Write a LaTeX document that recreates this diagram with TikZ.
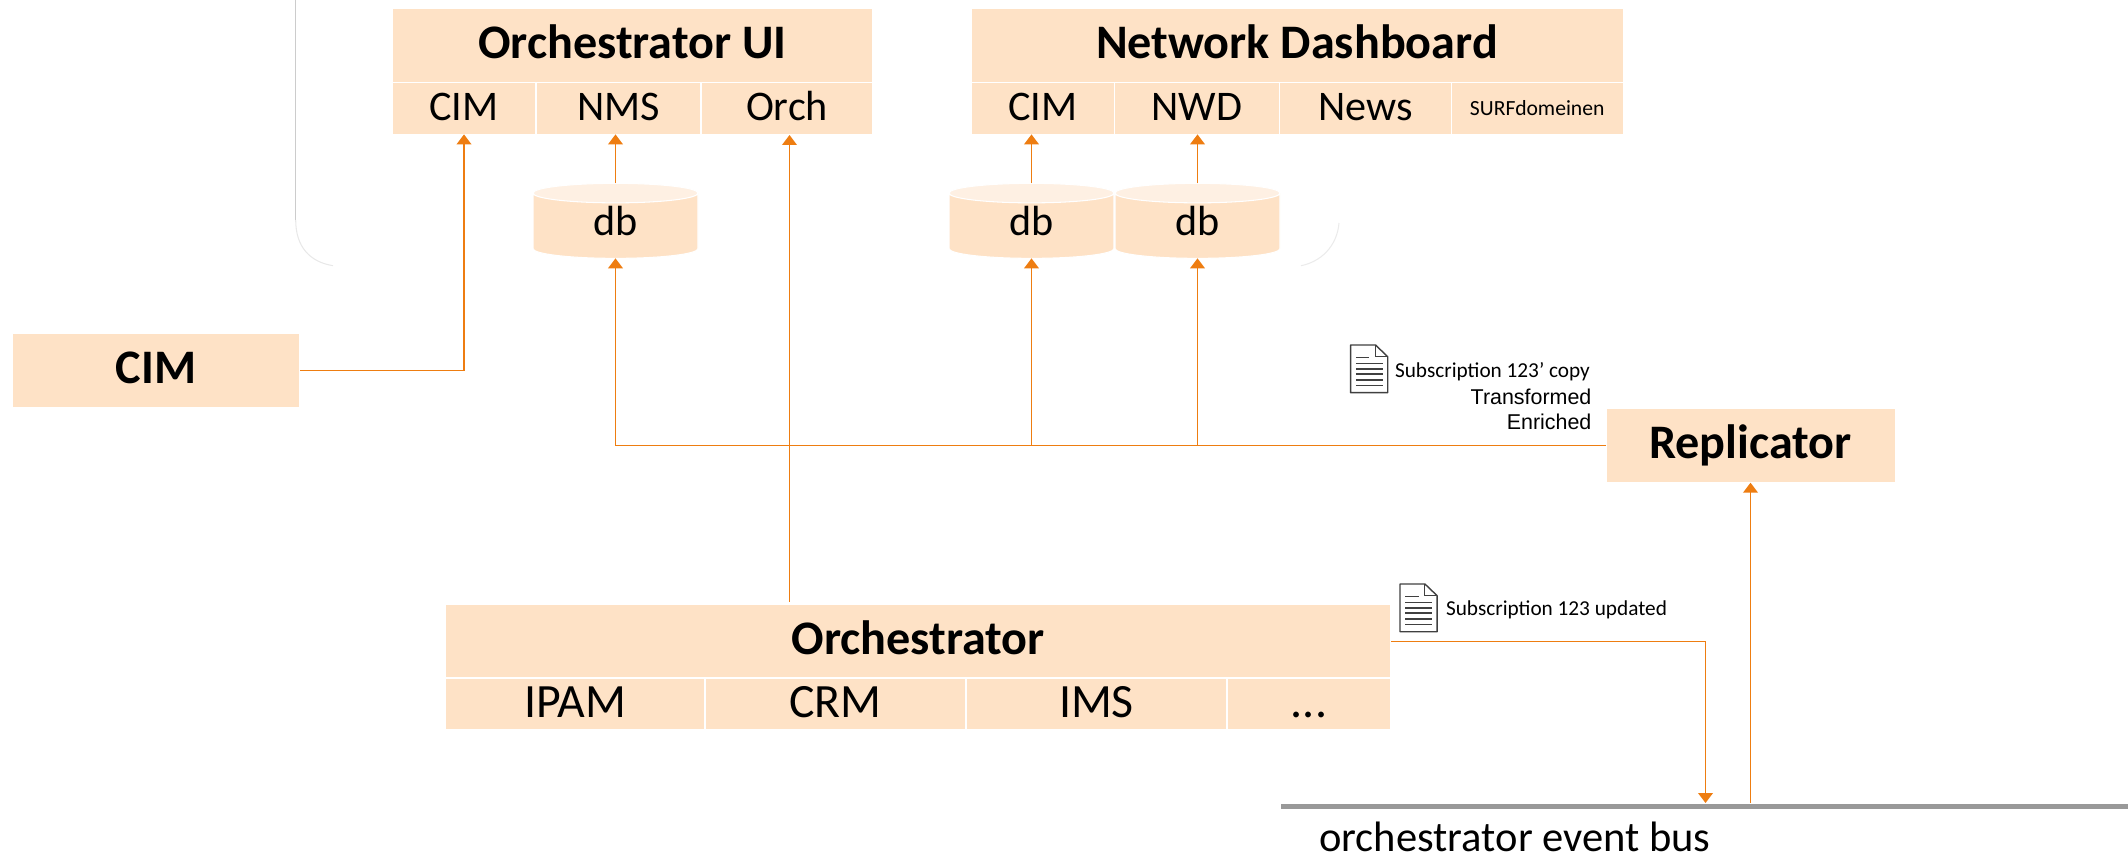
\documentclass[tikz,border=0pt]{standalone}
\usepackage{fontspec}
\setmainfont{Carlito}
\newfontfamily\arialfont{Liberation Sans}
\usetikzlibrary{arrows.meta, shapes.geometric}
\definecolor{boxfill}{HTML}{FEE2C6}
\definecolor{dbtop}{HTML}{FEF0E3}
\definecolor{linkcol}{HTML}{EE7D11}

\tikzset{
  box/.style={fill=boxfill, draw=white, line width=0.3pt, anchor=north west, inner sep=0pt, outer sep=0pt, text=black},
  title/.style={box, minimum height=0.747cm, text height=0.28cm, text depth=0.02cm, font=\fontsize{13.7}{15}\selectfont\bfseries},
  cell/.style={box, minimum height=0.516cm, text height=0.23cm, text depth=0cm, font=\fontsize{12}{13}\selectfont},
  lowcell/.style={cell, text height=0.27cm, font=\fontsize{13.6}{15}\selectfont},
  dbase/.style={cylinder, shape border rotate=90, aspect=0.44, minimum width=1.65cm, minimum height=0.75cm,
    cylinder uses custom fill, cylinder body fill=boxfill, cylinder end fill=dbtop, draw=white, line width=0.3pt,
    inner sep=0pt, outer sep=0pt, text height=0.19cm, text depth=0cm, font=\fontsize{12}{13}\selectfont},
  link/.style={draw=linkcol, line width=0.45pt},
  arrow/.style={link, -{Triangle[width=1.47mm, length=1mm]}},
  small/.style={inner sep=0pt, outer sep=0pt, font=\fontsize{6.05}{7}\selectfont},
  note/.style={inner sep=0pt, outer sep=0pt, anchor=base east, font=\arialfont\fontsize{6.1}{7}\selectfont},
  pics/docicon/.style={code={
    \draw[draw=black!75, line width=0.4pt, line join=round, fill=white] (0,0) -- (0.249,0) -- (0.371,-0.117) -- (0.371,-0.477) -- (0,-0.477) -- cycle;
    \draw[draw=black!75, line width=0.3pt] (0.249,0) -- (0.249,-0.117) -- (0.371,-0.117);
    \draw[draw=black!75, line width=0.4pt] (0.053,-0.123) -- (0.188,-0.123);
    \foreach \yy in {0.183,0.24,0.29,0.35,0.403} {
      \draw[draw=black!75, line width=0.4pt] (0.053,-\yy) -- (0.32,-\yy);
    }
  }},
}

\begin{document}
\begin{tikzpicture}
\useasboundingbox (0,0) rectangle (21.28,8.57);

% faint frame behind the top row
\draw[draw=black!20, line width=0.3pt] (2.957,8.57) -- (2.957,6.37);
\draw[draw=black!9, line width=0.3pt] (2.957,6.37) .. controls (2.957,6.1) and (3.1,5.95) .. (3.33,5.913);
\draw[draw=black!8, line width=0.3pt] (13.39,6.34) .. controls (13.37,6.1) and (13.2,5.95) .. (13.01,5.913);

% orchestrator ui
\node[title, minimum width=4.81cm] (uititle) at (3.92,8.49) {Orchestrator UI};
\node[cell, minimum width=1.44cm] (ucim) at (3.92,7.742) {CIM};
\node[cell, minimum width=1.65cm] (unms) at (5.36,7.742) {NMS};
\node[cell, minimum width=1.72cm] (uorch) at (7.01,7.742) {Orch};

% network dashboard
\node[title, minimum width=6.52cm] (nwdtitle) at (9.71,8.49) {Network Dashboard};
\node[cell, minimum width=1.434cm] (ncim) at (9.71,7.742) {CIM};
\node[cell, minimum width=1.652cm] (nnwd) at (11.144,7.742) {NWD};
\node[cell, minimum width=1.718cm] (nnews) at (12.796,7.742) {News};
\node[cell, minimum width=1.716cm, text height=0.13cm, font=\fontsize{6.15}{7}\selectfont] (nsurf) at (14.514,7.742) {SURFdomeinen};

% databases
\node[dbase] (dbnms) at (6.155,6.31) {db};
\node[dbase] (dbcim) at (10.315,6.31) {db};
\node[dbase] (dbnwd) at (11.975,6.31) {db};

\node[title, minimum width=2.88cm] (cim) at (0.12,5.24) {CIM};
\node[title, minimum width=2.89cm] (replicator) at (16.06,4.49) {Replicator};

% orchestrator
\node[title, minimum width=9.454cm] (orchestrator) at (4.456,2.53) {Orchestrator};
\node[lowcell, minimum width=2.594cm] (ipam) at (4.456,1.79) {IPAM};
\node[lowcell, minimum width=2.61cm] (crm) at (7.05,1.79) {CRM};
\node[lowcell, minimum width=2.61cm] (ims) at (9.66,1.79) {IMS};
\node[lowcell, minimum width=1.64cm] (dots) at (12.27,1.79) {{.}{.}{.}};

% event bus
\coordinate (busleft) at (12.81,0.505);
\coordinate (busright) at (21.28,0.505);
\coordinate (busin) at (17.055,0.54);
\coordinate (busout) at (17.505,0.54);
\draw[draw=black!40, line width=1.45pt] (busleft) -- (busright);
\node[inner sep=0pt, anchor=base west, font=\fontsize{12.1}{14}\selectfont] (buslabel) at (13.186,0.06) {orchestrator event bus};

% connectors
\draw[arrow] (cim.east) -| (ucim.south);
\draw[arrow] (dbnms.north) -- (dbnms.north |- unms.south);
\draw[arrow] (dbcim.north) -- (dbcim.north |- ncim.south);
\draw[arrow] (dbnwd.north) -- (dbnwd.north |- nnwd.south);
\draw[arrow] (uorch.south |- orchestrator.north) ++(0.025,0.025) -- ++(0,4.665);
\draw[arrow] (replicator.west) -| (dbnms.south);
\draw[arrow] (dbcim.south |- replicator.west) -- (dbcim.south);
\draw[arrow] (dbnwd.south |- replicator.west) -- (dbnwd.south);
\draw[arrow] (orchestrator.east) -| (busin);
\draw[arrow] (busout) -- (busout |- replicator.south);

% notes
\pic at (13.506,5.12) {docicon};
\node[small, anchor=base west] (copynote) at (13.95,4.79) {Subscription 123’ copy};
\node[note] (transformed) at (15.914,4.52) {Transformed};
\node[note] (enriched) at (15.914,4.28) {Enriched};
\pic at (14.0,2.73) {docicon};
\node[small, anchor=base west] (updatenote) at (14.46,2.413) {Subscription 123 updated};
\end{tikzpicture}
\end{document}
